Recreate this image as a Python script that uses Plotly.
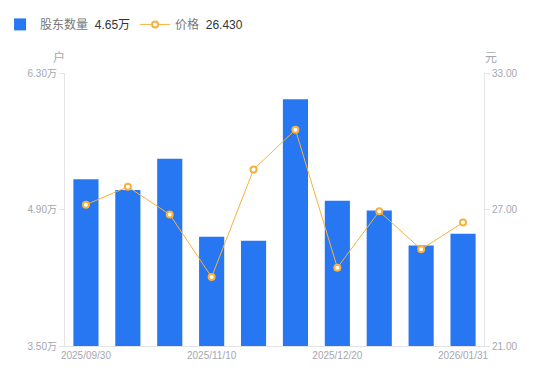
import plotly.graph_objects as go

dates = ["2025/09/30", "2025/10/10", "2025/10/20", "2025/11/10", "2025/11/20",
         "2025/12/10", "2025/12/20", "2025/12/31", "2026/01/20", "2026/01/31"]
holders_wan = [5.21, 5.10, 5.42, 4.62, 4.58, 6.03, 4.99, 4.89, 4.53, 4.65]
price = [27.21, 28.00, 26.78, 24.03, 28.76, 30.51, 24.44, 26.92, 25.25, 26.43]

x_tickvals = ["2025/09/30", "2025/11/10", "2025/12/20", "2026/01/31"]
left_ticks = [3.50, 4.90, 6.30]
right_ticks = [21.00, 27.00, 33.00]

FONT = "Liberation Sans, Noto Sans CJK SC, sans-serif"
GRAY = "#a4a7b0"
AXIS = "#e3e4e8"
BLUE = "#2777f3"
ORANGE = "#f8b13a"

fig = go.Figure()
fig.add_trace(go.Bar(
    x=dates, y=holders_wan, name="股东数量  <span style='color:#333333'>4.65万</span>",
    marker=dict(color=BLUE, line=dict(width=0)), width=0.6, yaxis="y",
    hoverinfo="skip"))
fig.add_trace(go.Scatter(
    x=dates, y=price, name="价格  <span style='color:#333333'>26.430</span>",
    mode="lines+markers", yaxis="y2",
    line=dict(color=ORANGE, width=1),
    marker=dict(symbol="circle", size=6, color="white", line=dict(color=ORANGE, width=2)),
    hoverinfo="skip"))

fig.update_layout(
    template="none",
    width=550, height=381,
    margin=dict(l=57, r=74, t=65, b=43, autoexpand=False),
    paper_bgcolor="white", plot_bgcolor="white",
    font=dict(family=FONT, size=10, color=GRAY),
    showlegend=True,
    legend=dict(orientation="h", x=-0.155, y=0.995, xref="paper", yref="container",
                xanchor="left", yanchor="top", font=dict(size=12, color="#777777"),
                itemwidth=30, traceorder="normal", bgcolor="rgba(0,0,0,0)"),
    xaxis=dict(type="category", range=[-0.5, len(dates) - 0.5], tickmode="array",
               tickvals=x_tickvals, ticktext=x_tickvals,
               showline=True, linecolor=AXIS, linewidth=1, showgrid=False, ticks="",
               tickfont=dict(size=10, color=GRAY), zeroline=False, automargin=False),
    yaxis=dict(range=[3.5, 6.3], tickmode="array", tickvals=left_ticks,
               ticktext=[f"{v:.2f}万" for v in left_ticks],
               showline=True, linecolor=AXIS, linewidth=1, showgrid=False,
               ticks="outside", ticklen=5, tickcolor=AXIS, zeroline=False,
               tickfont=dict(size=10, color=GRAY), automargin=False),
    yaxis2=dict(range=[21, 33], overlaying="y", side="right", tickmode="array",
                tickvals=right_ticks, ticktext=[f"{v:.2f}" for v in right_ticks],
                showline=True, linecolor=AXIS, linewidth=1, showgrid=False,
                ticks="outside", ticklen=5, tickcolor=AXIS, zeroline=False,
                tickfont=dict(size=10, color=GRAY), automargin=False),
    annotations=[
        dict(text="户", xref="paper", yref="paper", x=0, y=1, xanchor="right", yanchor="bottom",
             xshift=2, yshift=6, showarrow=False, font=dict(size=12, color=GRAY)),
        dict(text="元", xref="paper", yref="paper", x=1, y=1, xanchor="left", yanchor="bottom",
             xshift=-1, yshift=6, showarrow=False, font=dict(size=12, color=GRAY)),
    ],
)

fig.write_html("out.html")
